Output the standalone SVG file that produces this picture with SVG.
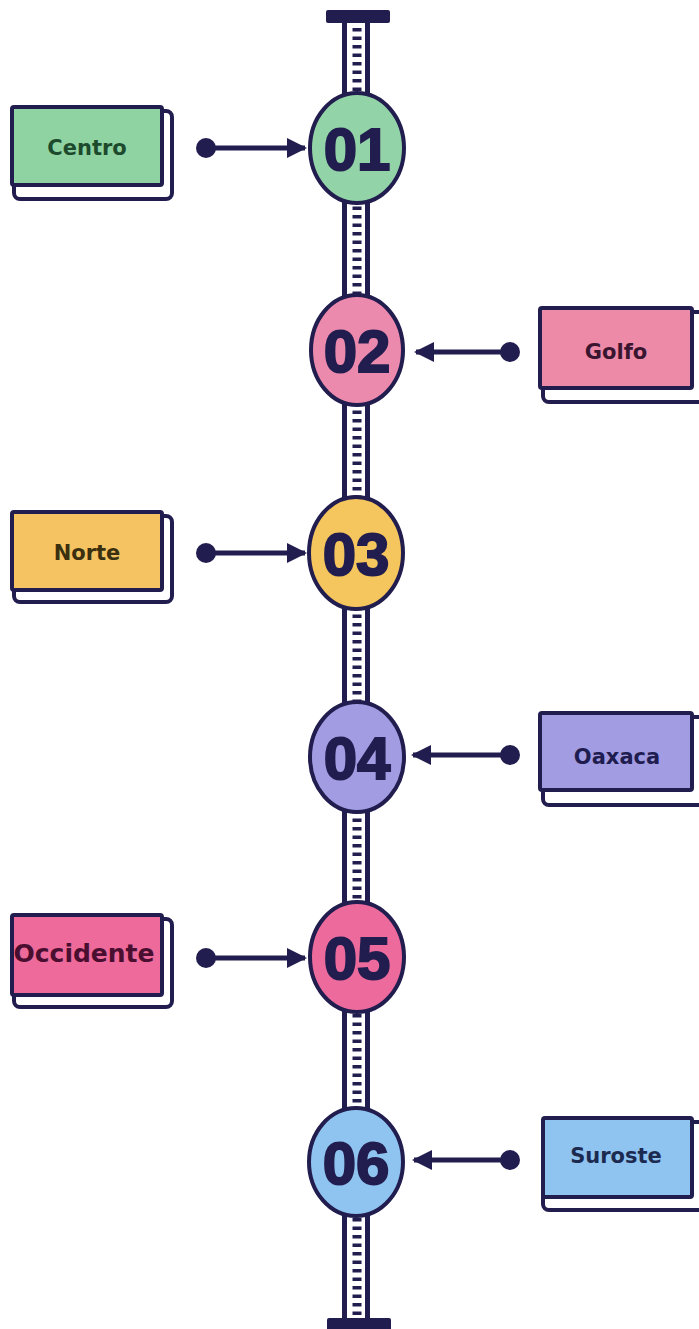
<svg xmlns="http://www.w3.org/2000/svg" width="699" height="1329" viewBox="0 0 699 1329">
<defs>
<style>
.ink{stroke:#211d4e;stroke-width:4;}
.back{fill:#ffffff;stroke:#211d4e;stroke-width:4;}
.lbl{font-family:"DejaVu Sans","Liberation Sans",sans-serif;font-weight:bold;font-size:21px;text-anchor:middle;}
.num{font-family:"Liberation Sans","DejaVu Sans",sans-serif;font-weight:bold;font-size:60px;text-anchor:middle;fill:#211d4e;stroke:#211d4e;stroke-width:2;}
.conn{stroke:#211d4e;stroke-width:5;fill:none;}
.dot{fill:#211d4e;}
</style>
<marker id="ah" viewBox="0 0 10 10" refX="9" refY="5" markerWidth="4" markerHeight="4" orient="auto" markerUnits="strokeWidth">
<path d="M0,0 L10,5 L0,10 Z" fill="#211d4e"/>
</marker>
</defs>
<rect width="699" height="1329" fill="#ffffff"/>
<g id="spine">
<rect x="346" y="20" width="20" height="1300" fill="#ffffff"/>
<line x1="344.5" y1="20" x2="344.5" y2="1320" stroke="#211d4e" stroke-width="5"/>
<line x1="367.5" y1="20" x2="367.5" y2="1320" stroke="#211d4e" stroke-width="5"/>
<line x1="357" y1="28" x2="357" y2="1316" stroke="#211d4e" stroke-width="9" stroke-dasharray="3.5 5"/>
<rect x="326" y="10" width="64" height="13" rx="2" fill="#211d4e"/>
<rect x="327" y="1318" width="64" height="14" rx="2" fill="#211d4e"/>
</g>
<g id="connectors">
<circle class="dot" cx="206" cy="148" r="10"/>
<line class="conn" x1="206" y1="148" x2="305" y2="148" marker-end="url(#ah)"/>
<circle class="dot" cx="510" cy="352" r="10"/>
<line class="conn" x1="510" y1="352" x2="416" y2="352" marker-end="url(#ah)"/>
<circle class="dot" cx="206" cy="553" r="10"/>
<line class="conn" x1="206" y1="553" x2="305" y2="553" marker-end="url(#ah)"/>
<circle class="dot" cx="510" cy="755" r="10"/>
<line class="conn" x1="510" y1="755" x2="413" y2="755" marker-end="url(#ah)"/>
<circle class="dot" cx="206" cy="958" r="10"/>
<line class="conn" x1="206" y1="958" x2="305" y2="958" marker-end="url(#ah)"/>
<circle class="dot" cx="510" cy="1160" r="10"/>
<line class="conn" x1="510" y1="1160" x2="414" y2="1160" marker-end="url(#ah)"/>
</g>
<g id="n01">
<ellipse class="ink" cx="357" cy="148" rx="47" ry="55" fill="#93d3a8"/>
<text class="num" x="357" y="170">01</text>
</g>
<g id="n02">
<ellipse class="ink" cx="357" cy="350" rx="46" ry="55" fill="#ec8aae"/>
<text class="num" x="357" y="372">02</text>
</g>
<g id="n03">
<ellipse class="ink" cx="356" cy="553" rx="47" ry="56" fill="#f5c55e"/>
<text class="num" x="356" y="575">03</text>
</g>
<g id="n04">
<ellipse class="ink" cx="357" cy="757" rx="47" ry="55" fill="#a29ce3"/>
<text class="num" x="357" y="779">04</text>
</g>
<g id="n05">
<ellipse class="ink" cx="357" cy="957" rx="47" ry="55" fill="#ec6a9c"/>
<text class="num" x="357" y="979">05</text>
</g>
<g id="n06">
<ellipse class="ink" cx="356" cy="1162" rx="47" ry="54" fill="#8fc3f0"/>
<text class="num" x="356" y="1184">06</text>
</g>
<g id="centro">
<rect class="back" x="14" y="111" width="158" height="88" rx="6"/>
<rect class="ink" x="12" y="107" width="150" height="78" rx="2" fill="#8fd3a3"/>
<text class="lbl" x="87" y="155" fill="#1d4a2c">Centro</text>
</g>
<g id="golfo">
<rect class="back" x="543" y="312" width="162" height="90" rx="6"/>
<rect class="ink" x="540" y="308" width="152" height="80" rx="2" fill="#ec8aa8"/>
<text class="lbl" x="616" y="359" fill="#3a1530">Golfo</text>
</g>
<g id="norte">
<rect class="back" x="14" y="516" width="158" height="86" rx="6"/>
<rect class="ink" x="12" y="512" width="150" height="78" rx="2" fill="#f5c361"/>
<text class="lbl" x="87" y="560" fill="#3a3010">Norte</text>
</g>
<g id="oaxaca">
<rect class="back" x="543" y="717" width="162" height="88" rx="6"/>
<rect class="ink" x="540" y="713" width="152" height="77" rx="2" fill="#a29ce3"/>
<text class="lbl" x="617" y="764" fill="#1f1d50">Oaxaca</text>
</g>
<g id="occidente">
<rect class="back" x="14" y="919" width="158" height="88" rx="6"/>
<rect class="ink" x="12" y="915" width="150" height="80" rx="2" fill="#ee6a9a"/>
<text class="lbl" x="84" y="962" fill="#4a0f30" style="font-size:25px">Occidente</text>
</g>
<g id="suroste">
<rect class="back" x="543" y="1122" width="162" height="88" rx="6"/>
<rect class="ink" x="543" y="1118" width="149" height="79" rx="2" fill="#8fc3f0"/>
<text class="lbl" x="616" y="1163" fill="#1d2a50">Suroste</text>
</g>
</svg>
